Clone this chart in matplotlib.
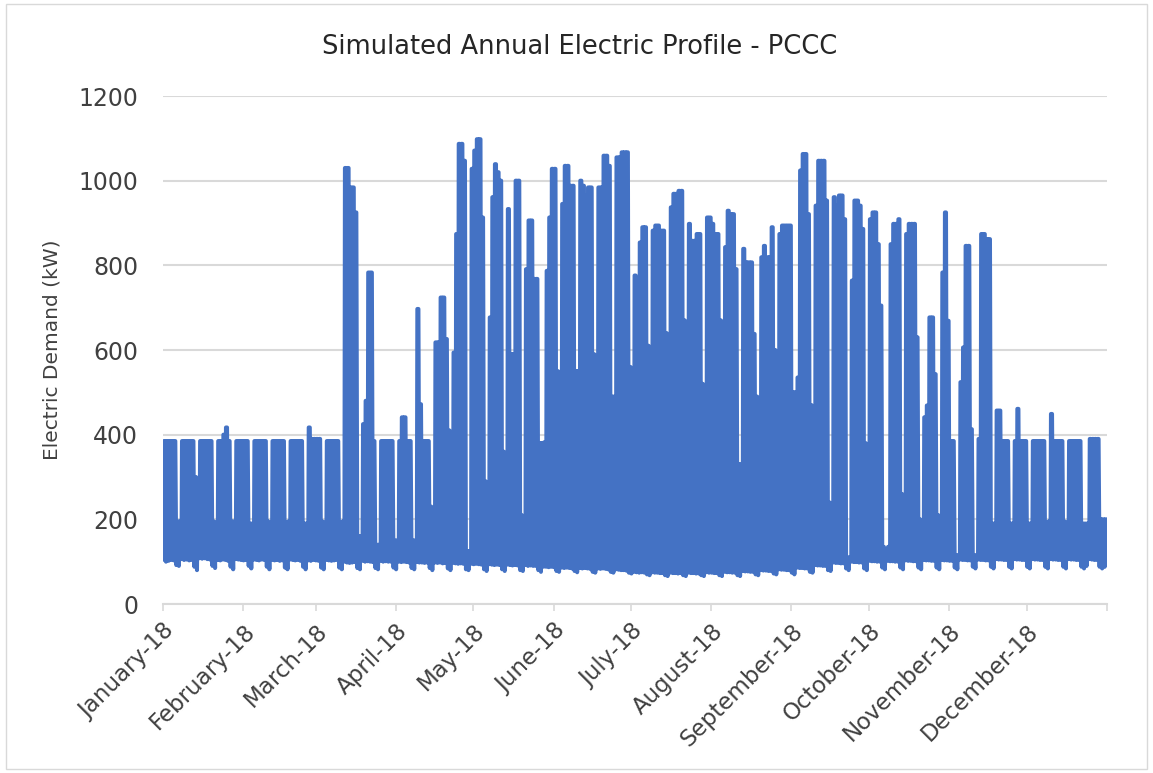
import matplotlib
matplotlib.use("Agg")
import matplotlib.pyplot as plt
import matplotlib.dates as mdates
from matplotlib.patches import Rectangle
import numpy as np
import pandas as pd

# Daily peak demand (kW), one row per week, Monday..Sunday (2018 starts on a Monday)
peak_kw = [
    [385, 385, 385, 385, 385, 195, 195],    # Jan 1
    [385, 385, 385, 385, 385, 300, 195],
    [385, 385, 385, 385, 385, 195, 190],
    [385, 385, 400, 417, 385, 195, 195],
    [385, 385, 385, 385, 385, 190, 190],    # Jan 29
    [385, 385, 385, 385, 385, 195, 190],
    [385, 385, 385, 385, 385, 190, 195],
    [385, 385, 385, 385, 385, 190, 190],
    [417, 390, 390, 390, 390, 195, 190],    # Feb 26
    [385, 385, 385, 385, 385, 190, 195],
    [1030, 1030, 984, 984, 925, 160, 160],
    [425, 480, 783, 783, 385, 140, 140],
    [385, 385, 385, 385, 385, 150, 150],    # Mar 26
    [385, 441, 441, 385, 385, 150, 150],
    [697, 472, 385, 385, 385, 230, 220],
    [618, 618, 724, 724, 626, 410, 400],
    [594, 874, 1087, 1087, 1047, 125, 125],
    [1028, 1071, 1098, 1098, 913, 290, 280],  # Apr 30
    [677, 961, 1039, 1020, 1000, 360, 350],
    [933, 590, 590, 1000, 1000, 210, 200],
    [791, 906, 906, 768, 768, 380, 380],
    [382, 787, 913, 1028, 1028, 550, 540],   # May 28
    [945, 1035, 1035, 988, 988, 550, 550],
    [1000, 988, 965, 984, 984, 590, 580],
    [984, 984, 1059, 1059, 1035, 490, 490],
    [1055, 1055, 1067, 1067, 1067, 560, 555],  # Jun 25
    [776, 720, 854, 890, 890, 610, 600],
    [882, 894, 894, 882, 882, 640, 630],
    [937, 969, 969, 976, 976, 670, 660],
    [898, 858, 858, 874, 874, 520, 510],
    [913, 913, 898, 874, 874, 670, 660],     # Jul 30
    [843, 929, 921, 921, 791, 330, 330],
    [839, 807, 807, 807, 638, 490, 480],
    [819, 846, 819, 819, 890, 600, 590],
    [874, 894, 894, 894, 894, 500, 500],     # Aug 27
    [535, 1024, 1063, 1063, 921, 470, 460],
    [941, 1047, 1047, 1047, 953, 240, 230],
    [961, 941, 965, 965, 909, 110, 110],
    [764, 953, 953, 941, 886, 380, 370],     # Sep 24
    [909, 925, 925, 850, 705, 135, 130],
    [135, 850, 898, 898, 909, 260, 250],
    [874, 898, 898, 898, 630, 200, 150],
    [441, 469, 677, 677, 543, 210, 200],
    [783, 925, 669, 385, 385, 115, 115],     # Oct 29
    [524, 606, 846, 846, 413, 115, 115],
    [390, 874, 874, 862, 862, 190, 190],
    [457, 457, 385, 385, 385, 190, 190],
    [385, 461, 385, 385, 385, 190, 190],     # Nov 26
    [385, 385, 385, 385, 385, 190, 195],
    [449, 385, 385, 385, 385, 195, 190],
    [385, 385, 385, 385, 385, 190, 190],
    [190, 390, 390, 390, 390, 200, 200],     # Dec 24
    [200],                                   # Dec 31
]

# Daily minimum (night) demand (kW), same layout
min_kw = [
    [105, 100, 102, 104, 103, 92, 90],
    [106, 104, 105, 103, 104, 88, 80],
    [108, 107, 108, 106, 105, 90, 85],
    [104, 103, 105, 104, 102, 88, 82],
    [106, 105, 104, 103, 104, 90, 84],
    [105, 104, 103, 105, 104, 88, 82],
    [104, 103, 104, 102, 103, 86, 82],
    [105, 104, 103, 104, 102, 88, 82],
    [103, 102, 104, 103, 102, 86, 82],
    [104, 103, 102, 103, 104, 86, 82],
    [100, 98, 97, 98, 99, 85, 82],
    [102, 100, 101, 100, 99, 85, 82],
    [102, 100, 101, 100, 100, 86, 82],
    [100, 99, 100, 99, 98, 85, 82],
    [99, 98, 98, 97, 98, 85, 80],
    [98, 97, 98, 96, 97, 84, 80],
    [97, 96, 95, 96, 95, 82, 80],
    [95, 94, 95, 94, 93, 82, 78],
    [94, 93, 92, 93, 92, 82, 78],
    [93, 92, 91, 92, 91, 80, 78],
    [92, 90, 91, 90, 90, 80, 76],
    [88, 88, 87, 88, 87, 78, 76],
    [86, 85, 86, 85, 84, 78, 75],
    [85, 84, 85, 84, 83, 76, 74],
    [84, 83, 84, 83, 82, 76, 74],
    [82, 81, 80, 80, 79, 74, 72],
    [76, 75, 74, 75, 74, 70, 68],
    [75, 74, 74, 73, 73, 68, 66],
    [74, 73, 73, 72, 73, 68, 66],
    [74, 73, 73, 72, 72, 68, 66],
    [75, 74, 74, 73, 73, 68, 66],
    [76, 75, 75, 74, 74, 68, 66],
    [78, 77, 77, 76, 76, 70, 68],
    [80, 79, 79, 78, 78, 72, 70],
    [82, 81, 81, 80, 80, 74, 70],
    [86, 85, 85, 84, 84, 76, 74],
    [92, 91, 91, 90, 90, 80, 78],
    [98, 97, 97, 96, 96, 84, 80],
    [100, 99, 99, 98, 98, 84, 80],
    [102, 101, 101, 100, 100, 86, 82],
    [102, 101, 101, 100, 100, 86, 82],
    [103, 102, 102, 101, 101, 86, 82],
    [104, 103, 103, 102, 102, 86, 82],
    [104, 103, 103, 102, 102, 86, 82],
    [105, 104, 104, 103, 103, 88, 84],
    [105, 104, 104, 103, 103, 88, 84],
    [106, 105, 105, 104, 104, 88, 84],
    [106, 105, 105, 104, 104, 88, 84],
    [106, 105, 105, 104, 104, 88, 84],
    [106, 105, 105, 104, 104, 88, 84],
    [106, 105, 105, 104, 104, 88, 84],
    [90, 106, 105, 104, 104, 88, 84],
    [88],
]

month_labels = ["January-18", "February-18", "March-18", "April-18", "May-18", "June-18",
                "July-18", "August-18", "September-18", "October-18", "November-18", "December-18"]

# flatten weeks -> days
peaks = np.array([v for week in peak_kw for v in week], dtype=float)
mins = np.array([v for week in min_kw for v in week], dtype=float)
days = pd.date_range("2018-01-01", periods=len(peaks), freq="D")
d0 = mdates.date2num(days)

# each day: night minimum, then the peak held over occupied hours
t = np.column_stack([d0 + 3 / 24, d0 + 8 / 24, d0 + 18 / 24]).ravel()
y = np.column_stack([mins, peaks, peaks]).ravel()

fig = plt.figure(figsize=(11.53, 7.73), dpi=100)
fig.patches.append(Rectangle((0.005, 0.005), 0.99, 0.99, transform=fig.transFigure,
                             fill=False, edgecolor="#d9d9d9", linewidth=1))
ax = fig.add_axes([0.1414, 0.2186, 0.8187, 0.6572])

ax.plot(t, y, color="#4472C4", linewidth=2.9, solid_joinstyle="round", zorder=3)

ax.set_ylim(0, 1200)
ax.set_yticks(np.arange(0, 1201, 200))
ax.grid(axis="y", color="#d9d9d9", linewidth=1.5, zorder=0)
ax.set_axisbelow(True)

month_starts = pd.date_range("2018-01-01", "2019-01-01", freq="MS")
ax.set_xlim(mdates.date2num(month_starts[0]), mdates.date2num(month_starts[-1]))
ax.set_xticks(mdates.date2num(month_starts))
ax.set_xticklabels(month_labels + [""], rotation=45, ha="right", rotation_mode="anchor",
                   fontsize=16.5, color="#404040")

for s in ["top", "right", "left"]:
    ax.spines[s].set_visible(False)
ax.spines["bottom"].set_color("#d9d9d9")
ax.spines["bottom"].set_linewidth(1.5)
ax.tick_params(axis="x", length=5, width=1.2, color="#d9d9d9", pad=6)
ax.tick_params(axis="y", length=0, pad=18, labelsize=17, labelcolor="#404040")

ax.set_ylabel("Electric Demand (kW)", fontsize=14.5, color="#404040", labelpad=12)
fig.text(0.503, 1 - 47 / 773, "Simulated Annual Electric Profile - PCCC",
         ha="center", va="center", fontsize=18.5, color="#262626")

fig.savefig("out.png", dpi=100)
